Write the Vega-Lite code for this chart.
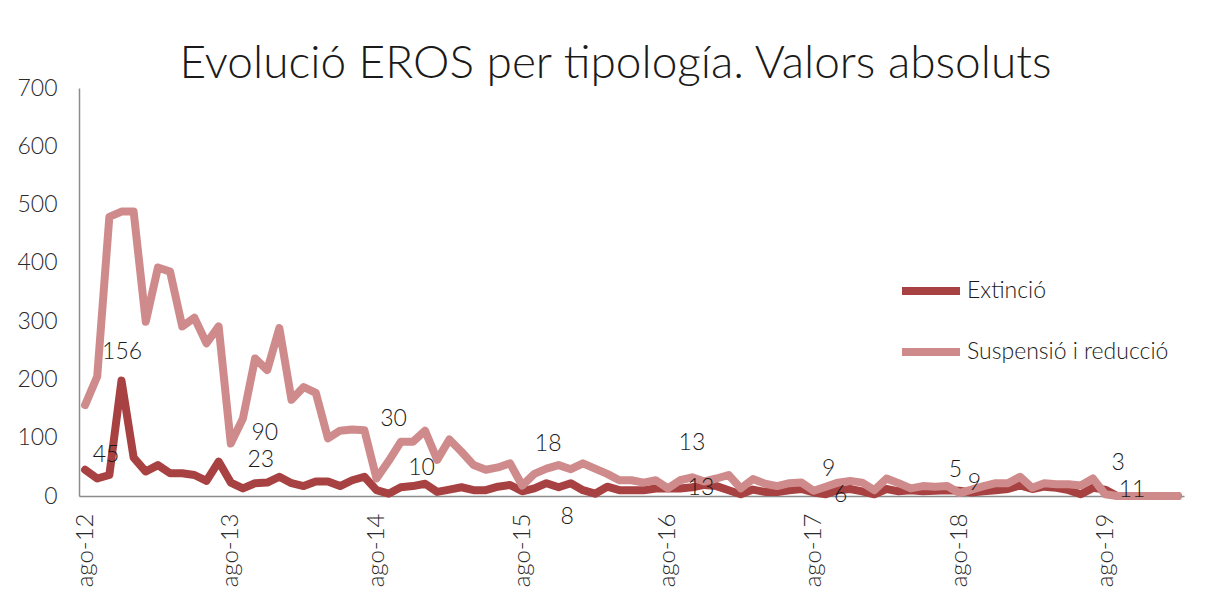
{
  "$schema": "https://vega.github.io/schema/vega-lite/v6.json",
  "width": 1105,
  "height": 408,
  "autosize": {"type": "none"},
  "padding": {"left": 79, "top": 88, "right": 22, "bottom": 110},
  "background": "white",
  "title": {
    "text": "Evolució EROS per tipología. Valors absoluts",
    "font": "Lato",
    "fontSize": 46,
    "fontWeight": 300,
    "color": "#1a1a1a",
    "anchor": "middle",
    "dx": -16,
    "baseline": "alphabetic",
    "offset": -47
  },
  "config": {
    "view": {"stroke": null},
    "font": "Lato",
    "text": {"font": "Lato", "fontSize": 23, "fontWeight": 300, "color": "#1a1a1a"}
  },
  "data": {
    "values": [
      {"mes": "2012-08", "Extinció": 45, "Suspensió i reducció": 156},
      {"mes": "2012-09", "Extinció": 30, "Suspensió i reducció": 205},
      {"mes": "2012-10", "Extinció": 36, "Suspensió i reducció": 479},
      {"mes": "2012-11", "Extinció": 198, "Suspensió i reducció": 488},
      {"mes": "2012-12", "Extinció": 66, "Suspensió i reducció": 488},
      {"mes": "2013-01", "Extinció": 42, "Suspensió i reducció": 299},
      {"mes": "2013-02", "Extinció": 53, "Suspensió i reducció": 392},
      {"mes": "2013-03", "Extinció": 39, "Suspensió i reducció": 385},
      {"mes": "2013-04", "Extinció": 39, "Suspensió i reducció": 291},
      {"mes": "2013-05", "Extinció": 36, "Suspensió i reducció": 306},
      {"mes": "2013-06", "Extinció": 26, "Suspensió i reducció": 262},
      {"mes": "2013-07", "Extinció": 59, "Suspensió i reducció": 291},
      {"mes": "2013-08", "Extinció": 23, "Suspensió i reducció": 90},
      {"mes": "2013-09", "Extinció": 13, "Suspensió i reducció": 133},
      {"mes": "2013-10", "Extinció": 22, "Suspensió i reducció": 236},
      {"mes": "2013-11", "Extinció": 23, "Suspensió i reducció": 216},
      {"mes": "2013-12", "Extinció": 33, "Suspensió i reducció": 288},
      {"mes": "2014-01", "Extinció": 22, "Suspensió i reducció": 165},
      {"mes": "2014-02", "Extinció": 17, "Suspensió i reducció": 187},
      {"mes": "2014-03", "Extinció": 25, "Suspensió i reducció": 177},
      {"mes": "2014-04", "Extinció": 25, "Suspensió i reducció": 99},
      {"mes": "2014-05", "Extinció": 17, "Suspensió i reducció": 112},
      {"mes": "2014-06", "Extinció": 27, "Suspensió i reducció": 114},
      {"mes": "2014-07", "Extinció": 33, "Suspensió i reducció": 113},
      {"mes": "2014-08", "Extinció": 10, "Suspensió i reducció": 30},
      {"mes": "2014-09", "Extinció": 4, "Suspensió i reducció": 60},
      {"mes": "2014-10", "Extinció": 15, "Suspensió i reducció": 93},
      {"mes": "2014-11", "Extinció": 17, "Suspensió i reducció": 93},
      {"mes": "2014-12", "Extinció": 21, "Suspensió i reducció": 112},
      {"mes": "2015-01", "Extinció": 7, "Suspensió i reducció": 62},
      {"mes": "2015-02", "Extinció": 11, "Suspensió i reducció": 97},
      {"mes": "2015-03", "Extinció": 15, "Suspensió i reducció": 76},
      {"mes": "2015-04", "Extinció": 10, "Suspensió i reducció": 53},
      {"mes": "2015-05", "Extinció": 10, "Suspensió i reducció": 45},
      {"mes": "2015-06", "Extinció": 16, "Suspensió i reducció": 49},
      {"mes": "2015-07", "Extinció": 19, "Suspensió i reducció": 56},
      {"mes": "2015-08", "Extinció": 8, "Suspensió i reducció": 18},
      {"mes": "2015-09", "Extinció": 13, "Suspensió i reducció": 38},
      {"mes": "2015-10", "Extinció": 22, "Suspensió i reducció": 47},
      {"mes": "2015-11", "Extinció": 15, "Suspensió i reducció": 53},
      {"mes": "2015-12", "Extinció": 22, "Suspensió i reducció": 46},
      {"mes": "2016-01", "Extinció": 10, "Suspensió i reducció": 56},
      {"mes": "2016-02", "Extinció": 4, "Suspensió i reducció": 47},
      {"mes": "2016-03", "Extinció": 16, "Suspensió i reducció": 38},
      {"mes": "2016-04", "Extinció": 10, "Suspensió i reducció": 27},
      {"mes": "2016-05", "Extinció": 10, "Suspensió i reducció": 27},
      {"mes": "2016-06", "Extinció": 10, "Suspensió i reducció": 23},
      {"mes": "2016-07", "Extinció": 13, "Suspensió i reducció": 27},
      {"mes": "2016-08", "Extinció": 13, "Suspensió i reducció": 13},
      {"mes": "2016-09", "Extinció": 13, "Suspensió i reducció": 27},
      {"mes": "2016-10", "Extinció": 15, "Suspensió i reducció": 32},
      {"mes": "2016-11", "Extinció": 19, "Suspensió i reducció": 25},
      {"mes": "2016-12", "Extinció": 17, "Suspensió i reducció": 30},
      {"mes": "2017-01", "Extinció": 10, "Suspensió i reducció": 36},
      {"mes": "2017-02", "Extinció": 3, "Suspensió i reducció": 13},
      {"mes": "2017-03", "Extinció": 11, "Suspensió i reducció": 29},
      {"mes": "2017-04", "Extinció": 7, "Suspensió i reducció": 21},
      {"mes": "2017-05", "Extinció": 7, "Suspensió i reducció": 17},
      {"mes": "2017-06", "Extinció": 10, "Suspensió i reducció": 22},
      {"mes": "2017-07", "Extinció": 12, "Suspensió i reducció": 23},
      {"mes": "2017-08", "Extinció": 6, "Suspensió i reducció": 9},
      {"mes": "2017-09", "Extinció": 3, "Suspensió i reducció": 16},
      {"mes": "2017-10", "Extinció": 10, "Suspensió i reducció": 23},
      {"mes": "2017-11", "Extinció": 12, "Suspensió i reducció": 26},
      {"mes": "2017-12", "Extinció": 8, "Suspensió i reducció": 23},
      {"mes": "2018-01", "Extinció": 3, "Suspensió i reducció": 10},
      {"mes": "2018-02", "Extinció": 12, "Suspensió i reducció": 30},
      {"mes": "2018-03", "Extinció": 8, "Suspensió i reducció": 22},
      {"mes": "2018-04", "Extinció": 10, "Suspensió i reducció": 13},
      {"mes": "2018-05", "Extinció": 8, "Suspensió i reducció": 17},
      {"mes": "2018-06", "Extinció": 9, "Suspensió i reducció": 16},
      {"mes": "2018-07", "Extinció": 10, "Suspensió i reducció": 17},
      {"mes": "2018-08", "Extinció": 9, "Suspensió i reducció": 5},
      {"mes": "2018-09", "Extinció": 6, "Suspensió i reducció": 11},
      {"mes": "2018-10", "Extinció": 8, "Suspensió i reducció": 17},
      {"mes": "2018-11", "Extinció": 10, "Suspensió i reducció": 22},
      {"mes": "2018-12", "Extinció": 12, "Suspensió i reducció": 22},
      {"mes": "2019-01", "Extinció": 18, "Suspensió i reducció": 33},
      {"mes": "2019-02", "Extinció": 12, "Suspensió i reducció": 14},
      {"mes": "2019-03", "Extinció": 16, "Suspensió i reducció": 22},
      {"mes": "2019-04", "Extinció": 14, "Suspensió i reducció": 20},
      {"mes": "2019-05", "Extinció": 10, "Suspensió i reducció": 20},
      {"mes": "2019-06", "Extinció": 3, "Suspensió i reducció": 18},
      {"mes": "2019-07", "Extinció": 14, "Suspensió i reducció": 30},
      {"mes": "2019-08", "Extinció": 11, "Suspensió i reducció": 3},
      {"mes": "2019-09", "Extinció": 0, "Suspensió i reducció": 0},
      {"mes": "2019-10", "Extinció": 0, "Suspensió i reducció": 0},
      {"mes": "2019-11", "Extinció": 0, "Suspensió i reducció": 0},
      {"mes": "2019-12", "Extinció": 0, "Suspensió i reducció": 0},
      {"mes": "2020-01", "Extinció": 0, "Suspensió i reducció": 0},
      {"mes": "2020-02", "Extinció": 0, "Suspensió i reducció": 0}
    ]
  },
  "transform": [
    {"fold": ["Extinció", "Suspensió i reducció"], "as": ["serie", "valor"]}
  ],
  "encoding": {
    "x": {
      "field": "mes",
      "type": "ordinal",
      "scale": {"type": "point", "padding": 0.5},
      "axis": {
        "title": null,
        "values": ["2012-08", "2013-08", "2014-08", "2015-08", "2016-08", "2017-08", "2018-08", "2019-08"],
        "labelExpr": "'ago-' + slice(datum.value, 2, 4)",
        "labelAngle": -90,
        "labelAlign": "right",
        "labelBaseline": "middle",
        "labelPadding": 17,
        "labelFont": "Lato",
        "labelFontSize": 24,
        "labelFontWeight": 300,
        "labelColor": "#2a2a2a",
        "ticks": false,
        "domainColor": "#8c8c8c",
        "domainWidth": 1.5,
        "grid": false
      }
    },
    "y": {
      "field": "valor",
      "type": "quantitative",
      "scale": {"domain": [0, 700], "nice": false},
      "axis": {
        "title": null,
        "values": [0, 100, 200, 300, 400, 500, 600, 700],
        "labelFont": "Lato",
        "labelFontSize": 23,
        "labelFontWeight": 300,
        "labelColor": "#2a2a2a",
        "labelPadding": 22,
        "ticks": false,
        "domainColor": "#8c8c8c",
        "domainWidth": 1.5,
        "grid": false
      }
    },
    "text": {"field": "valor", "type": "quantitative"}
  },
  "layer": [
    {
      "mark": {"type": "line", "strokeWidth": 8, "strokeJoin": "round", "strokeCap": "round"},
      "encoding": {
        "text": null,
        "color": {
          "field": "serie",
          "type": "nominal",
          "scale": {"domain": ["Extinció", "Suspensió i reducció"], "range": ["#a84242", "#cf8b8b"]},
          "legend": {
            "title": null,
            "orient": "none",
            "legendX": 819,
            "legendY": 170,
            "symbolType": "stroke",
            "symbolStrokeWidth": 8,
            "symbolSize": 3364,
            "labelFont": "Lato",
            "labelFontSize": 23,
            "labelFontWeight": 300,
            "labelColor": "#1a1a1a",
            "labelOffset": 3,
            "labelLimit": 0,
            "rowPadding": 12
          }
        }
      }
    },
    {"transform": [{"filter": "datum.mes == '2012-08' && datum.serie == 'Suspensió i reducció'"}], "mark": {"type": "text", "dx": 37, "dy": -53}},
    {"transform": [{"filter": "datum.mes == '2013-08' && datum.serie == 'Suspensió i reducció'"}], "mark": {"type": "text", "dx": 34, "dy": -11}},
    {"transform": [{"filter": "datum.mes == '2014-08' && datum.serie == 'Suspensió i reducció'"}], "mark": {"type": "text", "dx": 17, "dy": -60}},
    {"transform": [{"filter": "datum.mes == '2015-08' && datum.serie == 'Suspensió i reducció'"}], "mark": {"type": "text", "dx": 26, "dy": -42}},
    {"transform": [{"filter": "datum.mes == '2016-08' && datum.serie == 'Suspensió i reducció'"}], "mark": {"type": "text", "dx": 24, "dy": -45}},
    {"transform": [{"filter": "datum.mes == '2017-08' && datum.serie == 'Suspensió i reducció'"}], "mark": {"type": "text", "dx": 15, "dy": -22}},
    {"transform": [{"filter": "datum.mes == '2018-08' && datum.serie == 'Suspensió i reducció'"}], "mark": {"type": "text", "dx": -4, "dy": -23}},
    {"transform": [{"filter": "datum.mes == '2019-08' && datum.serie == 'Suspensió i reducció'"}], "mark": {"type": "text", "dx": 13, "dy": -31}},
    {"transform": [{"filter": "datum.mes == '2012-08' && datum.serie == 'Extinció'"}], "mark": {"type": "text", "dx": 21, "dy": -15}},
    {"transform": [{"filter": "datum.mes == '2013-08' && datum.serie == 'Extinció'"}], "mark": {"type": "text", "dx": 30, "dy": -23}},
    {"transform": [{"filter": "datum.mes == '2014-08' && datum.serie == 'Extinció'"}], "mark": {"type": "text", "dx": 45, "dy": -22}},
    {"transform": [{"filter": "datum.mes == '2015-08' && datum.serie == 'Extinció'"}], "mark": {"type": "text", "dx": 45, "dy": 26}},
    {"transform": [{"filter": "datum.mes == '2016-08' && datum.serie == 'Extinció'"}], "mark": {"type": "text", "dx": 33, "dy": 0}},
    {"transform": [{"filter": "datum.mes == '2017-08' && datum.serie == 'Extinció'"}], "mark": {"type": "text", "dx": 27, "dy": 2}},
    {"transform": [{"filter": "datum.mes == '2018-08' && datum.serie == 'Extinció'"}], "mark": {"type": "text", "dx": 15, "dy": -8}},
    {"transform": [{"filter": "datum.mes == '2019-08' && datum.serie == 'Extinció'"}], "mark": {"type": "text", "dx": 27, "dy": 0}}
  ]
}
